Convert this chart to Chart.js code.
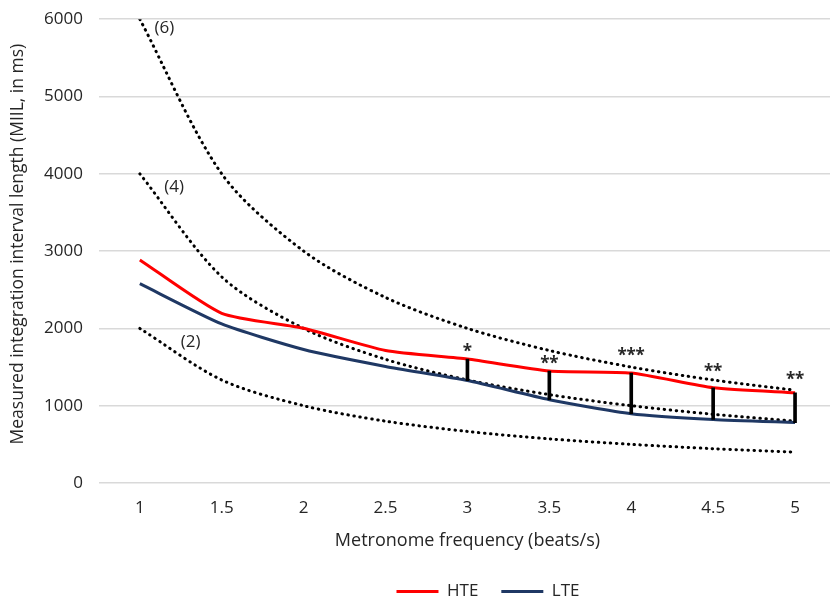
<!DOCTYPE html>
<html>
<head>
<meta charset="utf-8">
<script src="https://cdn.jsdelivr.net/npm/chart.js@4"></script>
<style>
  html, body { margin: 0; padding: 0; background: #fff; overflow: hidden; }
  #wrap { width: 836px; height: 607px; margin-top: -7px; }
</style>
</head>
<body>
<div id="wrap"><canvas id="chart"></canvas></div>
<script>
const categories = ['1', '1.5', '2', '2.5', '3', '3.5', '4', '4.5', '5'];

const hte = [2886, 2195, 2003, 1714, 1603, 1448, 1422, 1232, 1167];
const lte = [2578, 2058, 1727, 1508, 1325, 1078, 897, 822, 782];

// reference curves: 6, 4 and 2 beats per interval
const ratio6 = [6000, 4000, 3000, 2400, 2000, 1714, 1500, 1333, 1200];
const ratio4 = [4000, 2667, 2000, 1600, 1333, 1143, 1000, 889, 800];
const ratio2 = [2000, 1333, 1000, 800, 667, 571, 500, 444, 400];

const ratioLabels = ['(6)', '(4)', '(2)'];
const ratioLabelX = [0.3, 0.42, 0.62];
const ratioLabelY = [5880, 3830, 1820];

const sigStars = ['', '', '', '', '*', '**', '***', '**', '**'];
const sigStarY = [null, null, null, null, 1740, 1590, 1690, 1490, 1385];

const yTitle = 'Measured integration interval length (MIIL, in ms)';

const textColor = '#262626';
const fontFamily = '"Open Sans", sans-serif';
const tickFont = { family: fontFamily, size: 17 };

const sigBars = sigStars.map((s, i) => (s ? [lte[i], hte[i]] : null));

const dotted = (label, data) => ({
  label,
  data,
  borderColor: '#000',
  borderWidth: 3,
  borderDash: [0.5, 5.5],
  borderCapStyle: 'round',
  pointRadius: 0,
  tension: 0.3,
  fill: false,
});

// text annotations: y title, ratio labels and significance stars
const annotations = {
  id: 'annotations',
  afterDatasetsDraw(chart) {
    const { ctx, chartArea, scales: { x, y } } = chart;
    ctx.save();
    ctx.fillStyle = textColor;
    ctx.textAlign = 'center';
    ctx.textBaseline = 'middle';

    ctx.save();
    ctx.font = '17.5px ' + fontFamily;
    ctx.translate(18, (chartArea.top + chartArea.bottom) / 2 - 7);
    ctx.rotate(-Math.PI / 2);
    ctx.fillText(yTitle, 0, 0);
    ctx.restore();

    ctx.font = '17px ' + fontFamily;
    ratioLabels.forEach((t, i) => {
      ctx.fillText(t, x.getPixelForValue(ratioLabelX[i]), y.getPixelForValue(ratioLabelY[i]));
    });
    ctx.font = 'bold 17px ' + fontFamily;
    sigStars.forEach((s, i) => {
      if (!s) return;
      const cx = x.getPixelForValue(i);
      const cy = y.getPixelForValue(sigStarY[i]);
      const gap = 9;
      const start = cx - (s.length - 1) * gap / 2;
      for (let k = 0; k < s.length; k++) {
        ctx.fillText('*', start + k * gap, cy + 4);
      }
    });
    ctx.restore();
  },
};

// nudge the legend right and down
const legendShift = {
  id: 'legendShift',
  afterLayout(chart) {
    chart.legend.left += 56;
    chart.legend.right += 56;
    chart.legend.top += 10;
    chart.legend.bottom += 10;
  },
};

new Chart(document.getElementById('chart'), {
  type: 'line',
  data: {
    labels: categories,
    datasets: [
      {
        label: 'HTE',
        data: hte,
        borderColor: '#ff0000',
        backgroundColor: '#ff0000',
        borderWidth: 3,
        pointRadius: 0,
        tension: 0.2,
        order: 1,
      },
      {
        label: 'LTE',
        data: lte,
        borderColor: '#1f3864',
        backgroundColor: '#1f3864',
        borderWidth: 3,
        pointRadius: 0,
        tension: 0.2,
        order: 2,
      },
      { ...dotted('ratio6', ratio6), order: 3 },
      { ...dotted('ratio4', ratio4), order: 4 },
      { ...dotted('ratio2', ratio2), order: 5 },
      {
        type: 'bar',
        label: 'sig',
        data: sigBars,
        backgroundColor: '#000',
        barThickness: 3,
        order: 0,
      },
    ],
  },
  options: {
    responsive: true,
    maintainAspectRatio: false,
    animation: false,
    layout: { padding: { left: 28, right: 0, top: 0, bottom: 0 } },
    plugins: {
      tooltip: { enabled: false },
      legend: {
        position: 'bottom',
        labels: {
          color: textColor,
          font: { family: fontFamily, size: 17 },
          boxWidth: 42,
          boxHeight: 3,
          padding: 6,
          generateLabels(chart) {
            // em space after the first entry widens the gap between items
            return chart.data.datasets.slice(0, 2).map((ds, i) => ({
              text: i === 0 ? ds.label + '\u2003' : ds.label,
              fillStyle: ds.borderColor,
              strokeStyle: ds.borderColor,
              lineWidth: 0,
              hidden: false,
              datasetIndex: i,
              fontColor: textColor,
            }));
          },
        },
      },
    },
    scales: {
      x: {
        offset: true,
        grid: { display: false },
        border: { display: false },
        ticks: { color: textColor, font: tickFont, padding: 7 },
        title: {
          display: true,
          text: 'Metronome frequency (beats/s)',
          color: textColor,
          font: { family: fontFamily, size: 18 },
          padding: { top: 5, bottom: 15 },
        },
      },
      y: {
        min: 0,
        max: 6000,
        ticks: {
          stepSize: 1000,
          color: textColor,
          font: tickFont,
          padding: 16,
          callback: (v) => String(v),
        },
        grid: { color: '#d9d9d9', lineWidth: 1.5, drawTicks: false },
        border: { display: false },
      },
    },
  },
  plugins: [annotations, legendShift],
});
</script>
</body>
</html>
